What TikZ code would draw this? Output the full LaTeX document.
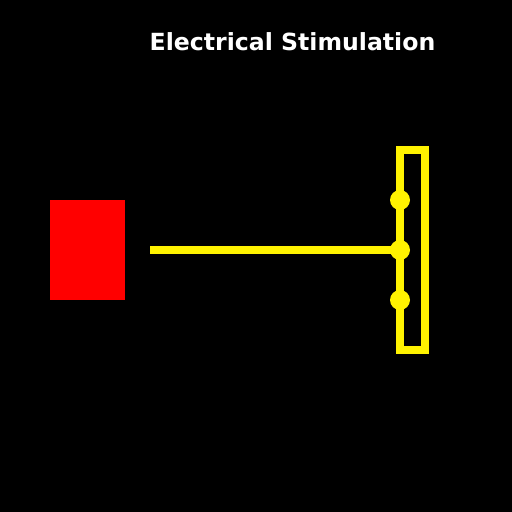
\documentclass[tikz,border=0pt]{standalone}
\usepackage{fontspec}
\setmainfont{DejaVu Sans}
\begin{document}
\begin{tikzpicture}[x=1pt,y=-1pt,
  yel/.style={draw=yellow,line width=8pt},
  dot/.style={circle,fill=yellow,minimum size=20pt,inner sep=0pt}]
\fill[black] (0,0) rectangle (512,512);
\useasboundingbox (0,0) rectangle (512,512);
\node[text=white,font=\bfseries\fontsize{23.6}{26}\selectfont] (title) at (292.5,42) {Electrical Stimulation};
\fill[red] (50,200) rectangle (125,300);
\draw[yel] (400,150) rectangle (425,350);
\coordinate (start) at (150,250);
\node[dot] (d1) at (400,200) {};
\node[dot] (d2) at (400,250) {};
\node[dot] (d3) at (400,300) {};
\draw[yel,line width=8pt] (start) -- (d2.center);
\end{tikzpicture}
\end{document}
